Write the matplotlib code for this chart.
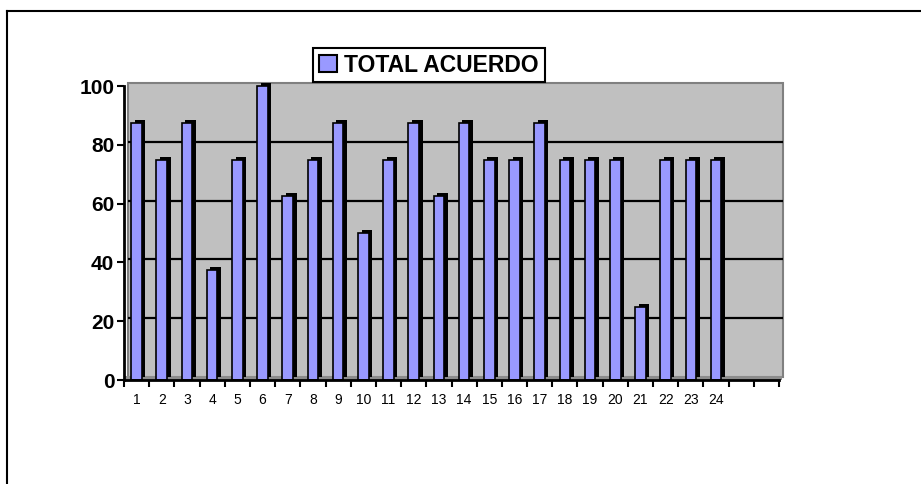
import numpy as np
import matplotlib.pyplot as plt
from matplotlib.patches import Rectangle, Patch
from matplotlib.lines import Line2D
from matplotlib.transforms import ScaledTranslation

# Datos
categorias = list(range(1, 25))
total_acuerdo = [87.5, 75, 87.5, 37.5, 75, 100, 62.5, 75, 87.5, 50, 75, 87.5,
                 62.5, 87.5, 75, 75, 87.5, 75, 75, 75, 25, 75, 75, 75]
n_slots = 26  # el eje tiene dos huecos vacios al final
y_ticks = [0, 20, 40, 60, 80, 100]

plt.rcParams['font.family'] = ['Liberation Sans', 'DejaVu Sans']

fig = plt.figure(figsize=(9.21, 4.84), dpi=100)
ax = fig.add_axes([124 / 921, 1 - 380 / 484, 655 / 921, 294 / 484])
ax.set_facecolor('none')
ax.set_xlim(0.5, n_slots + 0.5)
ax.set_ylim(0, 100)

# desplazamiento "3D" de la pared
wall_off = ax.transData + ScaledTranslation(4 / 100, 3 / 100, fig.dpi_scale_trans)
bar_off = ax.transData + ScaledTranslation(3.5 / 100, 3 / 100, fig.dpi_scale_trans)

ax.add_patch(Rectangle((0.5, 0), n_slots, 100, transform=wall_off,
                       facecolor='#C0C0C0', edgecolor='#808080', lw=1.5,
                       zorder=0, clip_on=False))
ax.add_patch(Rectangle((0.5, 0), n_slots + 0.1, 1.4, facecolor='#8C8C8C',
                       edgecolor='none', zorder=0.5, clip_on=False))
ax.hlines(y_ticks[1:-1], 0.5, n_slots + 0.5, colors='black', lw=1.6,
          transform=wall_off, zorder=1, clip_on=False)

# barras: lado oscuro + cara
ax.bar(categorias, total_acuerdo, width=0.42, color='black', transform=bar_off,
       zorder=2, clip_on=False)
ax.bar(categorias, total_acuerdo, width=0.42, color='#9999FF', edgecolor='black',
       lw=1.2, zorder=3, clip_on=False)

# ejes
for s in ['top', 'right']:
    ax.spines[s].set_visible(False)
ax.spines['left'].set_linewidth(2)
ax.spines['bottom'].set_linewidth(2)
ax.spines['left'].set_zorder(4)
ax.spines['bottom'].set_zorder(4)

ax.set_yticks(y_ticks)
ax.set_yticklabels([str(v) for v in y_ticks], fontsize=15, fontweight='bold')
ax.tick_params(axis='y', length=5, width=1.5, pad=2)

ax.set_xticks(np.arange(0.5, n_slots + 1, 1))
ax.set_xticklabels([])
ax.tick_params(axis='x', which='major', length=5, width=1.5)
ax.set_xticks(categorias, minor=True)
ax.set_xticklabels([str(c) for c in categorias], minor=True, fontsize=10)
ax.tick_params(axis='x', which='minor', length=0, pad=9)

# leyenda
leg = ax.legend(handles=[Patch(facecolor='#9999FF', edgecolor='black', lw=1.5,
                               label='TOTAL ACUERDO')],
                loc='center', bbox_to_anchor=(429 / 921, 1 - 65 / 484),
                bbox_transform=fig.transFigure, fancybox=False, framealpha=1,
                prop={'weight': 'bold', 'size': 16.5}, handlelength=0.8,
                handleheight=0.8, handletextpad=0.3, borderpad=0.25,
                borderaxespad=0)
leg.get_frame().set_edgecolor('black')
leg.get_frame().set_linewidth(1.5)
leg.set_zorder(10)

# marco exterior (recortado)
fig.add_artist(Line2D([7 / 921, 1], [1 - 11 / 484] * 2, color='black', lw=1.5,
                      transform=fig.transFigure))
fig.add_artist(Line2D([7 / 921] * 2, [0, 1 - 11 / 484], color='black', lw=1.5,
                      transform=fig.transFigure))

fig.savefig('out.png', dpi=100)
